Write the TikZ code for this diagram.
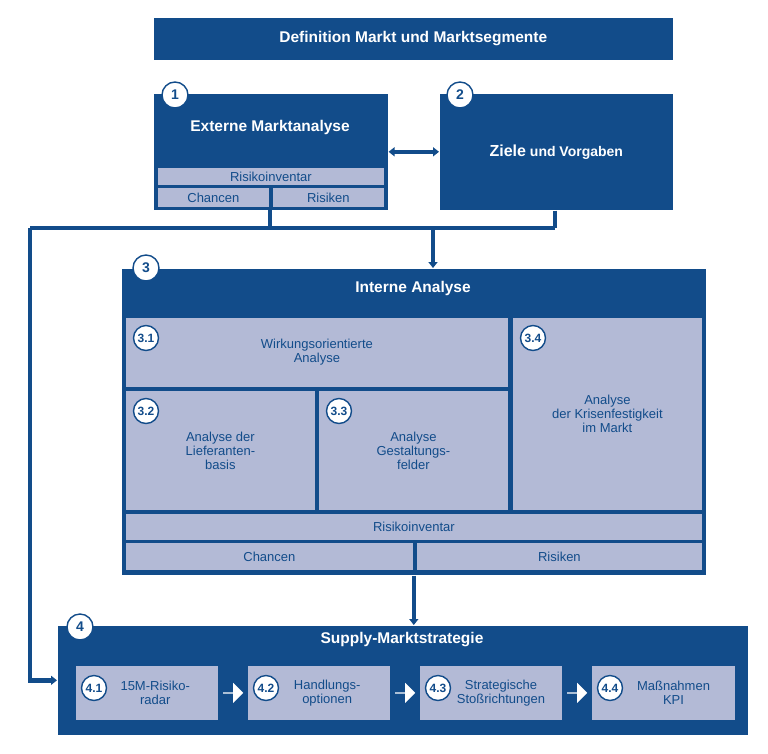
\documentclass[tikz,border=0pt]{standalone}
\usepackage{fontspec}
\setmainfont{Liberation Sans}
\usetikzlibrary{arrows.meta,shapes.arrows,calc}
\definecolor{cdark}{HTML}{124C8A}
\definecolor{clight}{HTML}{B3BAD6}
\tikzset{>={Triangle[width=9pt,length=6pt]}}
\tikzset{
  wb/.style 2 args={minimum width=#1pt, minimum height=#2pt},
  box/.style={draw=white, line width=.6pt, fill=cdark, anchor=north west, inner sep=0pt},
  cell/.style={draw=cdark, line width=.8pt, fill=clight, anchor=north west, inner sep=0pt,
    text=cdark, font=\fontsize{13}{14}\selectfont, align=center},
  head/.style={text=white, font=\bfseries\fontsize{15.5}{17}\selectfont},
  num/.style={circle, draw=cdark, line width=1.4pt, fill=white, text=cdark, inner sep=0pt,
    minimum size=26pt, font=\bfseries\fontsize{14}{14}\selectfont},
  subnum/.style={num, minimum size=25pt, font=\bfseries\fontsize{12}{12}\selectfont},
  link/.style={draw=cdark, line width=4.5pt},
  stepar/.style={single arrow, fill=white, minimum height=20pt, minimum width=20pt,
    single arrow head extend=3pt, inner sep=0pt}
}
\begin{document}
\begin{tikzpicture}[x=1pt, y=-1pt]
    \useasboundingbox(0, 0) rectangle (768, 753);
    % title bar
    \node[box, wb={520}{43}](top) at(153, 17){};
    \node[head] at(top.center){Definition Markt und Marktsegmente};
    % 1 and 2
    \node[box, wb={235}{117}](ext) at(153, 93){};
    \node[head] (extt) at(270, 127){Externe Marktanalyse};
    \node[cell, wb={227}{18}](ext-inv) at(157, 167){Risikoinventar};
    \node[cell, wb={112}{20}](ext-ch) at(157, 187){Chancen};
    \node[cell, wb={112}{20}](ext-ri) at(272, 187){Risiken};
    \node[num](n1) at(175, 95){1};
    \node[box, wb={234}{117}](goal) at(439, 93){};
    \node[text=white, font=\bfseries\fontsize{14}{15}\selectfont] at(goal.center)
        {{\fontsize{16}{17}\selectfont Ziele} und Vorgaben};
    \node[num](n2) at(460, 95){2};
    \draw[cdark, line width=4pt, <->](ext.east)--(goal.west);
    % 3
    \node[box, wb={585}{307}](int) at(121, 268){};
    \node[head] at(413, 288){Interne Analyse};
    \node[cell, wb={383}{70}](c31) at(125, 317){Wirkungsorientierte\\Analyse};
    \node[cell, wb={190}{120}](c32) at(125, 390){Analyse der\\Lieferanten-\\basis};
    \node[cell, wb={190}{120}](c33) at(318, 390){Analyse\\Gestaltungs-\\felder};
    \node[cell, wb={190}{193}](c34) at(512, 317){Analyse\\der Krisenfestigkeit\\im Markt};
    \node[cell, wb={577}{27}](int-inv) at(125, 513){Risikoinventar};
    \node[cell, wb={288}{28}](int-ch) at(125, 542){Chancen};
    \node[cell, wb={286}{28}](int-ri) at(416, 542){Risiken};
    \node[num](n3) at(146, 268){3};
    \node[subnum] at(146, 338){3.1};
    \node[subnum] at(146, 411){3.2};
    \node[subnum] at(339, 411){3.3};
    \node[subnum] at(533, 338){3.4};
    % 4
    \node[box, wb={691}{110}](sup) at(57, 625){};
    \node[head] at(402, 640){Supply-Marktstrategie};
    \node[cell, wb={143}{55}](c41) at(75, 665){\quad\ 15M-Risiko-\\\quad\ radar};
    \node[cell, wb={143}{55}](c42) at(247, 665){\quad\ Handlungs-\\\quad\ optionen};
    \node[cell, wb={143}{55}](c43) at(419, 665){\quad\ \ Strategische\\\quad\ \ Stoßrichtungen};
    \node[cell, wb={144}{55}](c44) at(591, 665){\quad\ \ Maßnahmen\\\quad\ \ KPI};
    \node[num](n4) at(80, 627){4};
    \node[subnum] at(94, 688){4.1};
    \node[subnum] at(266, 688){4.2};
    \node[subnum] at(438, 688){4.3};
    \node[subnum] at(610, 688){4.4};
    \foreach \a/\b in {c41/c42, c42/c43, c43/c44}
        \node[stepar] at($(\a.east)!.5!(\b.west)$){};
    % connectors
    \coordinate (bus) at(433, 228);
    \coordinate (lft) at(30, 228);
    \coordinate (rgt) at(555, 228);
    \draw[link](ext-ch.south east)--(ext-ch.south east |- bus);
    \draw[link](goal.south -| rgt)--(rgt);
    \draw[link](lft)--(rgt);
    \draw[link, ->](bus)--(bus |- int.north);
    \draw[link, ->](lft)--(lft |- sup.west)--(sup.west);
    \draw[link, ->](int.south)--(sup.north -| int.south);
\end{tikzpicture}
\end{document}
